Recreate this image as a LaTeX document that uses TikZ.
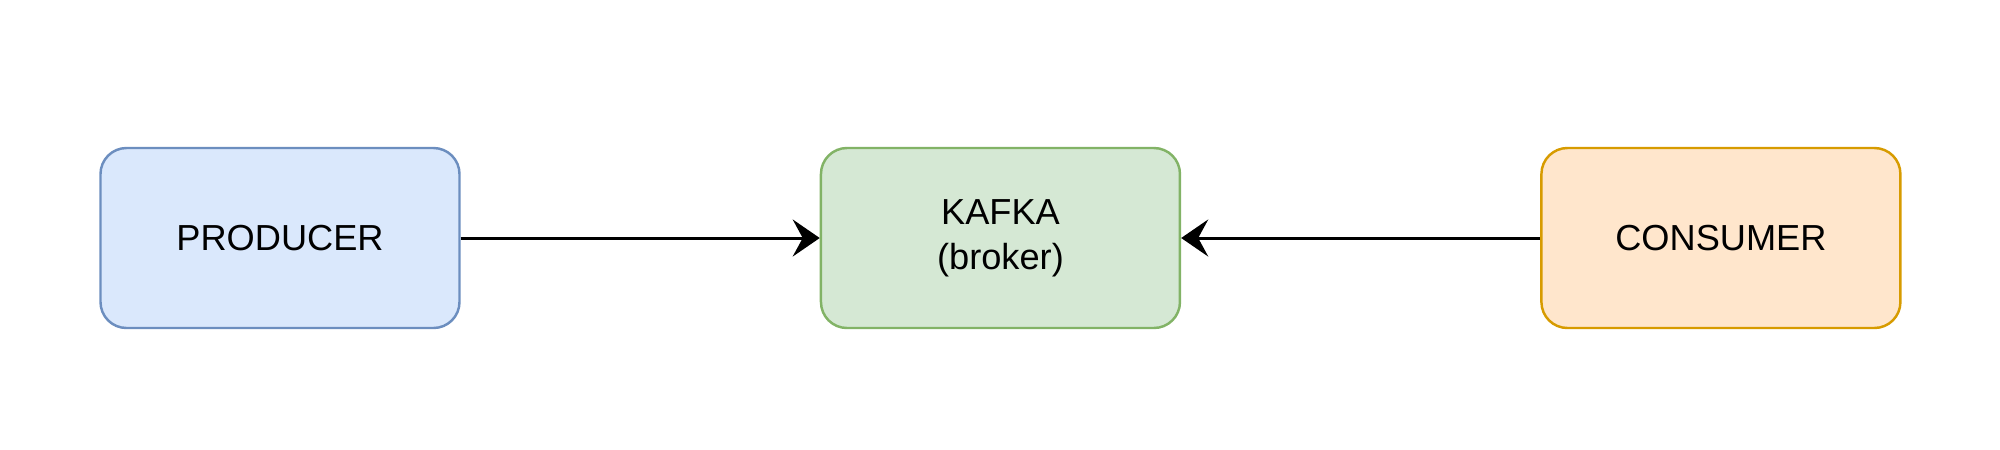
\documentclass[tikz,border=0pt]{standalone}
\usepackage{fontspec}
\setmainfont{Liberation Sans}
\usetikzlibrary{arrows.meta}
\usetikzlibrary{positioning}
\definecolor{bluefill}{HTML}{DAE8FC}
\definecolor{bluedraw}{HTML}{6C8EBF}
\definecolor{greenfill}{HTML}{D5E8D4}
\definecolor{greendraw}{HTML}{82B366}
\definecolor{orangefill}{HTML}{FFE6CC}
\definecolor{orangedraw}{HTML}{D79B00}
\begin{document}
\begin{tikzpicture}[-{Stealth[length=2.7mm,width=3.7mm,inset=1mm]},line width=0.85pt,
		box/.style={draw,rounded corners=2.6mm,line width=0.7pt,minimum width=3.59cm,minimum height=1.8cm,align=center,font=\fontsize{10.3}{12.8}\selectfont},
		node distance=3.59cm]
			\useasboundingbox (0,0) rectangle (20,4.49);
			\node[box,draw=bluedraw,fill=bluefill] (producer) at (2.8,2.11) {PRODUCER};
			\node[box,draw=greendraw,fill=greenfill,right=of producer] (kafka) {KAFKA\\(broker)};
			\node[box,draw=orangedraw,fill=orangefill,right=of kafka] (consumer) {CONSUMER};
			\draw  (producer) -- (kafka);
			\draw  (consumer) -- (kafka);
			\end{tikzpicture}
\end{document}
